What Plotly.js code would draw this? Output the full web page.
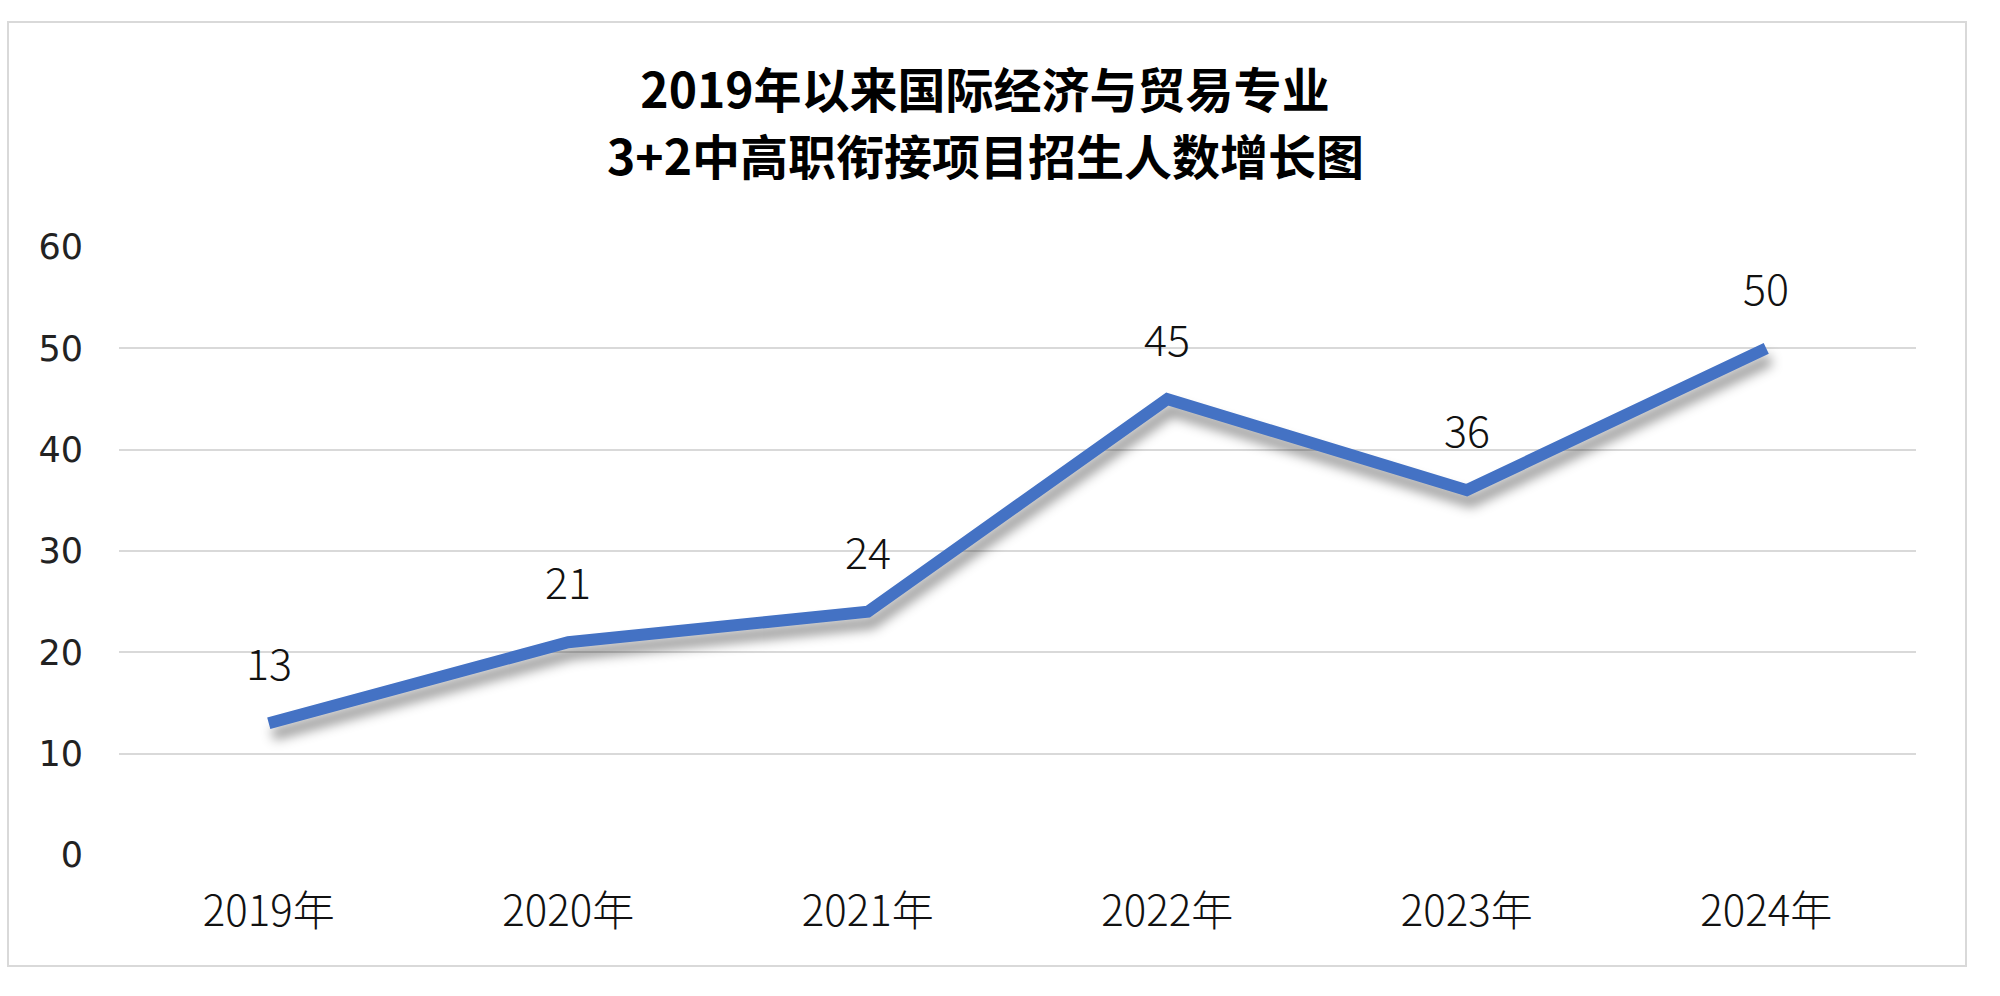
<!DOCTYPE html>
<html><head><meta charset="utf-8">
<script src="https://cdn.plot.ly/plotly-3.0.1.min.js"></script>
<style>
html,body{margin:0;padding:0;background:#fff;}
#frame{position:absolute;left:7px;top:21px;width:1960px;height:946px;border:2px solid #d9d9d9;box-sizing:border-box;}
#chart{position:absolute;left:0;top:0;width:2000px;height:996px;}
</style></head>
<body>
<div id="frame"></div>
<div id="chart"></div>
<script>
const categories = ['2019年','2020年','2021年','2022年','2023年','2024年'];
const enrollment = [13, 21, 24, 45, 36, 50];
const titleLine1 = '2019年以来国际经济与贸易专业';
const titleLine2 = '3+2中高职衔接项目招生人数增长图';

const font = '"Noto Sans CJK SC", "Noto Sans", sans-serif';

const trace = {
  x: categories, y: enrollment, type: 'scatter', mode: 'lines',
  line: {color: '#4472C4', width: 12, shape: 'linear'},
  hoverinfo: 'x+y'
};

const annotations = categories.map((c, i) => ({
  x: c, y: enrollment[i], xref: 'x', yref: 'y',
  text: String(enrollment[i]), showarrow: false,
  yshift: 62, font: {family: font, size: 43, color: '#111', weight: 300}
}));

// second title line
annotations.push({
  text: titleLine2, xref: 'paper', yref: 'paper',
  x: (985 - 119) / 1797, y: (855 - 154) / 608, xanchor: 'center', yanchor: 'middle',
  showarrow: false, font: {family: font, size: 48, color: '#000', weight: 700}
});

const layout = {
  width: 2000, height: 996,
  paper_bgcolor: 'rgba(0,0,0,0)', plot_bgcolor: 'rgba(0,0,0,0)',
  margin: {l: 119, r: 84, t: 247, b: 141},
  title: {text: titleLine1, x: 0.4925, xref: 'container', xanchor: 'center',
          y: 1 - 91/996, yref: 'container', yanchor: 'middle',
          font: {family: font, size: 48, color: '#000', weight: 700}},
  showlegend: false,
  xaxis: {type: 'category', range: [-0.5, 5.5], showgrid: false, zeroline: false,
          showline: false, ticks: 'outside', ticklen: 20, tickcolor: 'rgba(0,0,0,0)',
          tickfont: {family: font, size: 42, color: '#111', weight: 300}},
  yaxis: {range: [0, 60], dtick: 10, showgrid: true, gridcolor: '#d9d9d9', gridwidth: 2,
          zeroline: false, showline: false, ticks: 'outside', ticklen: 28, tickcolor: 'rgba(0,0,0,0)',
          tickfont: {family: '"DejaVu Sans", sans-serif', size: 35, color: '#222'}},
  annotations: annotations
};

Plotly.newPlot('chart', [trace], layout, {displayModeBar: false, staticPlot: true}).then(() => {
  document.querySelectorAll('.scatterlayer .js-line').forEach(p => {
    p.style.filter = 'drop-shadow(4px 11px 6px rgba(0,0,0,0.4))';
  });
});
</script>
</body></html>
